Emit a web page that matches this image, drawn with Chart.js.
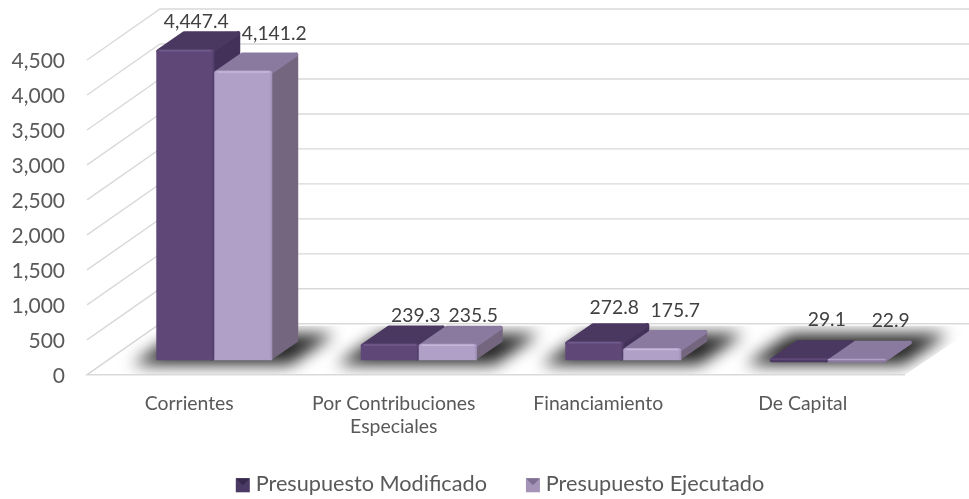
<!DOCTYPE html>
<html>
<head>
<meta charset="utf-8">
<style>html,body{margin:0;padding:0;background:#fff}canvas{display:block}</style>
<script src="https://cdn.jsdelivr.net/npm/chart.js@4/dist/chart.umd.min.js"></script>
</head>
<body>
<canvas id="c" width="969" height="499"></canvas>
<script>
const categories = ['Corrientes', ['Por Contribuciones', 'Especiales'], 'Financiamiento', 'De Capital'];
const seriesNames = ['Presupuesto Modificado', 'Presupuesto Ejecutado'];
const presupuestoModificado = [4447.4, 239.3, 272.8, 29.1];
const presupuestoEjecutado = [4141.2, 235.5, 175.7, 22.9];

const FONT = 'Lato, "Open Sans", sans-serif';
const WALL = {dx: 73, dy: -51};
const BAR = {dx: 25, dy: -14.5, dpx: 26, dpy: 18};
const STYLE = [
  {front: '#5F4878', top: '#4A3860', side: '#43315A', hi: '#715A8C', edge: '#523E6A', mark: '#4C3A66', markD: '#37284D'},
  {front: '#B09FC7', top: '#8A7A9F', side: '#75667F', hi: '#C6B8D9', edge: '#A392B9', mark: '#A594B8', markD: '#7D6E92'}
];
const LABEL_OFFSET = [
  [[11, -27], [26, -28], [20, -33], [28, -38]],
  [[31, -37], [25.5, -28.5], [23, -37], [34, -38]]
];
const LEGEND_SHIFT = {x: 50, y: -46};
const LEGEND_PADDING = 44;

function fmt(v, d) {
  return v.toLocaleString('en-US', {minimumFractionDigits: d, maximumFractionDigits: d});
}
function poly(ctx, pts) {
  ctx.beginPath();
  pts.forEach((p, i) => i ? ctx.lineTo(p[0], p[1]) : ctx.moveTo(p[0], p[1]));
  ctx.closePath();
}
function softPoly(ctx, pts, fill) {
  ctx.save();
  poly(ctx, pts);
  ctx.fillStyle = fill; ctx.strokeStyle = fill;
  ctx.lineJoin = 'round'; ctx.lineWidth = 4;
  ctx.fill(); ctx.stroke();
  ctx.restore();
}
function drawDepth(chart, s) {
  const ctx = chart.ctx, st = STYLE[s];
  chart.getDatasetMeta(s).data.forEach(el => {
    const {x, y, base, width} = el.getProps(['x', 'y', 'base', 'width'], true);
    const l = x - width / 2 + 2, r = x + width / 2 - 2, t = y + 2;
    const flat = base - y < 4;
    const lw = flat ? 0 : 2;
    softPoly(ctx, [[r, t], [r + BAR.dpx, t - BAR.dpy], [r + BAR.dpx, base - BAR.dpy - lw], [r, base - lw]], st.side);
    softPoly(ctx, [[l, t], [r, t], [r + BAR.dpx, t - BAR.dpy], [l + BAR.dpx, t - BAR.dpy]], st.top);
  });
}
function drawBevel(chart, s) {
  const ctx = chart.ctx, st = STYLE[s];
  chart.getDatasetMeta(s).data.forEach(el => {
    const {x, y, base, width} = el.getProps(['x', 'y', 'base', 'width'], true);
    const l = x - width / 2, r = x + width / 2;
    if (base - y < 4) return;
    ctx.save();
    ctx.lineWidth = 1.5;
    ctx.strokeStyle = st.hi;
    ctx.beginPath(); ctx.moveTo(l + 3, y + 1.5); ctx.lineTo(r - 3, y + 1.5); ctx.stroke();
    ctx.strokeStyle = st.edge;
    ctx.beginPath(); ctx.moveTo(r - 1, y + 3); ctx.lineTo(r - 1, base - 1); ctx.stroke();
    ctx.restore();
  });
}

const box3d = {
  id: 'box3d',
  afterLayout(chart) {
    const lg = chart.legend;
    lg.left += LEGEND_SHIFT.x; lg.right += LEGEND_SHIFT.x; lg.top += LEGEND_SHIFT.y; lg.bottom += LEGEND_SHIFT.y;
    lg.legendHitBoxes.forEach(h => { h.left += LEGEND_SHIFT.x; });
  },
  beforeDatasetsDraw(chart) {
    const {ctx, chartArea: a, scales: {y}} = chart;
    ctx.save();
    ctx.strokeStyle = '#D9D9D9'; ctx.lineWidth = 1.4;
    y.ticks.forEach(t => {
      const py = y.getPixelForValue(t.value);
      ctx.beginPath();
      ctx.moveTo(a.left, py);
      ctx.lineTo(a.left + WALL.dx, py + WALL.dy);
      ctx.lineTo(a.right + WALL.dx, py + WALL.dy);
      ctx.stroke();
    });
    const py0 = y.getPixelForValue(0);
    ctx.save();
    poly(ctx, [[a.left, py0], [a.right, py0], [a.right + WALL.dx, py0 + WALL.dy + 2], [a.left + WALL.dx, py0 + WALL.dy + 2]]);
    ctx.clip();
    ctx.filter = 'blur(8px)';
    ctx.fillStyle = '#262626';
    const m0 = chart.getDatasetMeta(0).data, m1 = chart.getDatasetMeta(1).data;
    const fy = py0 - 10, by = py0 + WALL.dy + 10, sk = (fy - by) * 1.43;
    m0.forEach((el, i) => {
      const l = el.x - el.width / 2 + BAR.dx - 24, r = m1[i].x + m1[i].width / 2 + BAR.dx + 18;
      poly(ctx, [[l, fy], [r, fy], [r + sk, by], [l + sk, by]]);
      ctx.fill();
    });
    ctx.restore();
    ctx.beginPath();
    ctx.moveTo(a.left + WALL.dx, py0 + WALL.dy);
    ctx.lineTo(a.left, py0);
    ctx.lineTo(a.right, py0);
    ctx.stroke();
    ctx.restore();
    ctx.save();
    ctx.translate(BAR.dx, BAR.dy);
    [0, 1].forEach(s => {
      drawDepth(chart, s);
      chart.getDatasetMeta(s).controller.draw();
      drawBevel(chart, s);
    });
    ctx.restore();
  },
  beforeDatasetDraw() { return false; },
  afterDatasetsDraw(chart) {
    const ctx = chart.ctx;
    ctx.save();
    ctx.font = '19.3px ' + FONT;
    ctx.fillStyle = '#404040';
    ctx.textAlign = 'center'; ctx.textBaseline = 'middle';
    chart.data.datasets.forEach((ds, s) => {
      chart.getDatasetMeta(s).data.forEach((el, i) => {
        const o = LABEL_OFFSET[s][i];
        ctx.fillText(fmt(ds.data[i], 1), el.x + BAR.dx + o[0], el.y + BAR.dy + o[1]);
      });
    });
    ctx.restore();
  },
  afterDraw(chart) {
    const ctx = chart.ctx;
    chart.legend.legendHitBoxes.forEach((h, i) => {
      const st = STYLE[i], s = 14, x = h.left - 5, y = chart.legend.top + LEGEND_PADDING + 5;
      ctx.save();
      ctx.fillStyle = st.mark; ctx.fillRect(x, y, s, s);
      ctx.fillStyle = st.markD;
      poly(ctx, [[x, y], [x + s, y], [x + s / 2, y + s / 2]]); ctx.fill();
      ctx.restore();
    });
  }
};

new Chart(document.getElementById('c'), {
  type: 'bar',
  data: {
    labels: categories,
    datasets: [
      {label: seriesNames[0], data: presupuestoModificado, backgroundColor: STYLE[0].front, borderColor: STYLE[0].mark, clip: false},
      {label: seriesNames[1], data: presupuestoEjecutado, backgroundColor: STYLE[1].front, borderColor: STYLE[1].mark, clip: false}
    ]
  },
  options: {
    responsive: false,
    animation: false,
    events: [],
    layout: {padding: {left: 0, right: 64, top: 60, bottom: -52}},
    datasets: {bar: {categoryPercentage: 0.567, barPercentage: 1, borderRadius: 3}},
    plugins: {
      tooltip: {enabled: false},
      title: {display: false},
      legend: {
        position: 'bottom',
        align: 'center',
        labels: {
          font: {family: FONT, size: 21.7},
          color: '#595959',
          boxWidth: 4,
          boxHeight: 4,
          padding: LEGEND_PADDING
        }
      }
    },
    scales: {
      x: {
        grid: {display: false},
        border: {display: false},
        ticks: {font: {family: FONT, size: 19.4}, color: '#595959', maxRotation: 0, autoSkip: false, padding: 9},
        afterFit(s) { s.height = 100.5; }
      },
      y: {
        min: 0, max: 4500,
        grid: {display: false},
        border: {display: false},
        ticks: {
          stepSize: 500,
          font: {family: FONT, size: 21},
          color: '#595959',
          padding: 14,
          labelOffset: 1.5,
          callback: v => fmt(v, 0)
        },
        afterFit(s) { s.width = 87; }
      }
    }
  },
  plugins: [box3d]
});
</script>
</body>
</html>
